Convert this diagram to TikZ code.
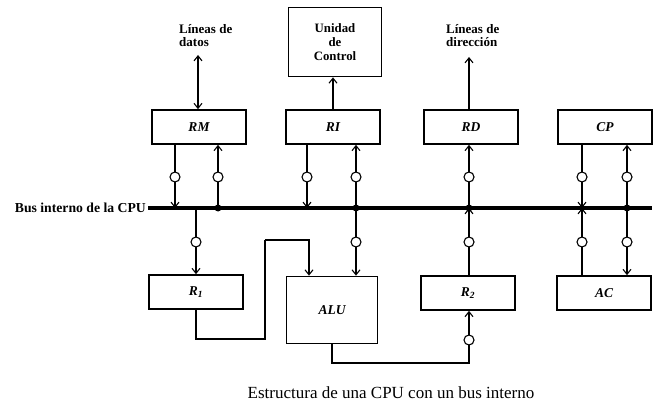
\documentclass[tikz,border=0pt]{standalone}
\usepackage{fontspec}
\setmainfont{Liberation Serif}
\usetikzlibrary{arrows.meta}
\begin{document}
\begin{tikzpicture}[x=1pt,y=-1pt,
  reg/.style={draw,line width=1.7pt,minimum width=94pt,minimum height=34pt,inner sep=0pt,font=\fontsize{13.5}{13.5}\selectfont\bfseries\itshape},
  conn/.style={line width=1.1pt},
  arr/.style={conn,-{Straight Barb[length=5pt,width=8pt,line width=1.1pt]}},
  darr/.style={conn,{Straight Barb[length=5pt,width=8pt,line width=1.1pt]}-{Straight Barb[length=5pt,width=8pt,line width=1.1pt]}},
  valve/.style={circle,draw,line width=1.1pt,fill=white,inner sep=0pt,minimum size=10pt},
  dot/.style={circle,fill=black,inner sep=0pt,minimum size=7pt},
  lbl/.style={font=\fontsize{13}{13}\selectfont\bfseries,inner sep=0pt,align=left}
]
\useasboundingbox (0,0) rectangle (660,406);

% boxes
\node[reg] (RM) at (199,127) {RM};
\node[reg] (RI) at (333,127) {RI};
\node[reg] (RD) at (471,127) {RD};
\node[reg] (CP) at (605,127) {CP};
\node[reg] (R1) at (196,292) {R\textsubscript{1}};
\node[reg,minimum width=91pt,minimum height=67pt] (ALU) at (332,310) {ALU};
\node[reg] (R2) at (468,293) {R\textsubscript{2}};
\node[reg] (AC) at (604,293) {AC};
\node[draw,line width=1.7pt,minimum width=93pt,minimum height=69pt,inner sep=0pt,align=center,font=\fontsize{12.8}{14}\selectfont\bfseries] (UC) at (335,42) {Unidad\\de\\Control};

% labels
\node[lbl,anchor=north west] (LD) at (179,24) {Líneas de\\datos};
\node[lbl,anchor=north west] (LDir) at (446,24) {Líneas de\\dirección};
\node[lbl,anchor=east,font=\fontsize{13.7}{14}\selectfont\bfseries] (BL) at (146,208) {Bus interno de la CPU};
\node[font=\fontsize{17}{18}\selectfont,inner sep=0pt] (cap) at (391,393) {Estructura de una CPU con un bus interno};

% bus
\coordinate (busL) at (148,208);
\coordinate (busR) at (652,208);
\draw[line width=3.8pt] (busL) -- (busR);

% top links
\coordinate (ldend) at (198,55);
\draw[darr] (ldend) -- (ldend |- RM.north);
\draw[arr] (RI.north) -- (RI.north |- UC.south);
\coordinate (ldirend) at (469,57);
\draw[arr] (ldirend |- RD.north) -- (ldirend);

% RM
\draw[arr] ([xshift=-24pt]RM.south) -- ([xshift=-24pt]RM.south |- busL);
\node[valve] at ([xshift=-24pt]RM.south |- 0,177) {};
\draw[arr] ([xshift=19pt]RM.south |- busL) -- ([xshift=19pt]RM.south);
\node[valve] at ([xshift=19pt]RM.south |- 0,177) {};
\node[dot] at ([xshift=19pt]RM.south |- busL) {};

% RI
\draw[arr] ([xshift=-26pt]RI.south) -- ([xshift=-26pt]RI.south |- busL);
\node[valve] at ([xshift=-26pt]RI.south |- 0,177) {};
\draw[arr] ([xshift=23pt]RI.south |- busL) -- ([xshift=23pt]RI.south);
\node[valve] at ([xshift=23pt]RI.south |- 0,177) {};
\draw[arr] ([xshift=23pt]RI.south |- busL) -- ([xshift=23pt]RI.south |- ALU.north);
\node[valve] at ([xshift=23pt]RI.south |- 0,242) {};
\node[dot] at ([xshift=23pt]RI.south |- busL) {};

% RD / R2
\coordinate (rdx) at (469,0);
\draw[arr] (rdx |- busL) -- (rdx |- RD.south);
\node[valve] at (rdx |- 0,177) {};
\draw[arr] (rdx |- R2.north) -- (rdx |- busL);
\node[valve] at (rdx |- 0,242) {};
\node[dot] at (rdx |- busL) {};

% CP / AC
\draw[arr] ([xshift=-23pt]CP.south) -- ([xshift=-23pt]CP.south |- busL);
\node[valve] at ([xshift=-23pt]CP.south |- 0,177) {};
\draw[arr] ([xshift=-23pt]CP.south |- AC.north) -- ([xshift=-23pt]CP.south |- busL);
\node[valve] at ([xshift=-23pt]CP.south |- 0,242) {};
\draw[arr] ([xshift=22pt]CP.south |- busL) -- ([xshift=22pt]CP.south);
\node[valve] at ([xshift=22pt]CP.south |- 0,177) {};
\draw[arr] ([xshift=22pt]CP.south |- busL) -- ([xshift=22pt]CP.south |- AC.north);
\node[valve] at ([xshift=22pt]CP.south |- 0,242) {};
\node[dot] at ([xshift=22pt]CP.south |- busL) {};

% R1
\draw[arr] (R1.north |- busL) -- (R1.north);
\node[valve] at (R1.north |- 0,242) {};

% R1 -> ALU
\draw[conn] (R1.south) -- (R1.south |- 0,339) -| (265,240) coordinate (turn);
\draw[arr] (turn) -| ([xshift=-23pt]ALU.north);

% ALU -> R2
\draw[arr] (ALU.south) -- (ALU.south |- 0,363) -| (rdx |- R2.south);
\node[valve] at (rdx |- 0,340) {};
\end{tikzpicture}
\end{document}
